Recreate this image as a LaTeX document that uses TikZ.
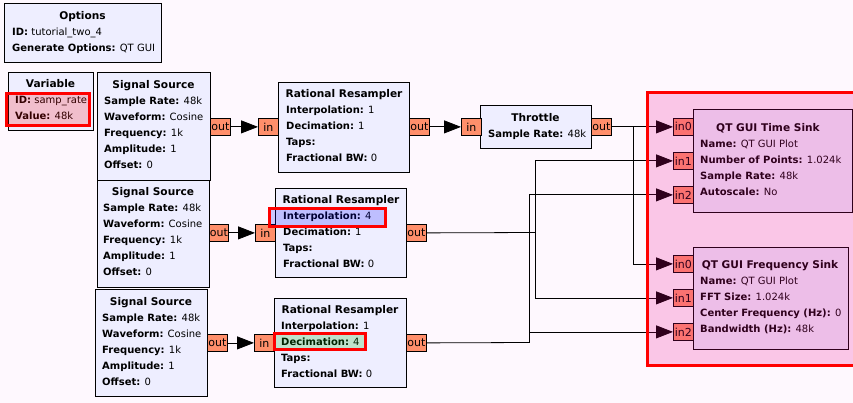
\documentclass[tikz,border=0pt]{standalone}
\usepackage{fontspec}
\setmainfont{DejaVu Sans}
\usetikzlibrary{arrows.meta}
\definecolor{bgc}{HTML}{FEF8FE}
\definecolor{blkfill}{HTML}{EEEEFF}
\definecolor{portfill}{HTML}{FF8F6B}
\tikzset{
  blk/.style={draw, fill=blkfill, line width=1pt, inner sep=0pt, anchor=north west},
  prt/.style={draw, fill=portfill, line width=0.8pt, inner sep=0pt, anchor=north west,
    minimum width=20pt, minimum height=17pt, font=\fontsize{11}{12}\selectfont},
  lbl/.style={anchor=base west, inner sep=0pt, font=\fontsize{10}{12}\selectfont},
  ttl/.style={anchor=base, inner sep=0pt, font=\fontsize{10.6}{12}\selectfont\bfseries},
  wire/.style={line width=0.8pt},
  arr/.style={wire, -{Triangle[length=17pt,width=13pt]}},
  hlbox/.style={line width=3pt, fill opacity=0.2},
}
\newcommand\mykv[5]{\node[lbl] (#1) at (#2,#3+3.6) {\textbf{#4} #5};}
\newcommand\myttl[4]{\node[ttl] (#1) at (#2,#3+3.8) {#4};}
\newcommand\myblk[5]{\node[blk, minimum width=#4pt, minimum height=#5pt] (#1) at (#2,#3) {};}
\begin{document}
\begin{tikzpicture}[x=1pt,y=-1pt]
\fill[bgc] (0,0) rectangle (853,403);
\useasboundingbox (0,0) rectangle (853,403);

% Options
\myblk{opt}{4}{3}{157}{59}
\myttl{optt}{82.5}{16}{Options}
\mykv{opt1}{12}{32}{ID:}{tutorial\_two\_4}
\mykv{opt2}{12}{48}{Generate Options:}{QT GUI}

% Variable
\myblk{var}{8}{72}{85}{58}
\myttl{vart}{50.5}{84}{Variable}
\mykv{var1}{15}{100}{ID:}{samp\_rate}
\mykv{var2}{15}{116}{Value:}{48k}

% Signal sources
\myblk{ss1}{97}{72}{113}{108}
\myttl{ss1t}{153.5}{85}{Signal Source}
\mykv{ss1a}{104}{101}{Sample Rate:}{48k}
\mykv{ss1b}{104}{117}{Waveform:}{Cosine}
\mykv{ss1c}{104}{133}{Frequency:}{1k}
\mykv{ss1d}{104}{149}{Amplitude:}{1}
\mykv{ss1e}{104}{165}{Offset:}{0}

\myblk{ss2}{97}{180}{112}{107}
\myttl{ss2t}{153}{192}{Signal Source}
\mykv{ss2a}{103}{208}{Sample Rate:}{48k}
\mykv{ss2b}{103}{224}{Waveform:}{Cosine}
\mykv{ss2c}{103}{240}{Frequency:}{1k}
\mykv{ss2d}{103}{256}{Amplitude:}{1}
\mykv{ss2e}{103}{272}{Offset:}{0}

\myblk{ss3}{95}{289}{112}{107}
\myttl{ss3t}{151}{302}{Signal Source}
\mykv{ss3a}{102}{318}{Sample Rate:}{48k}
\mykv{ss3b}{102}{334}{Waveform:}{Cosine}
\mykv{ss3c}{102}{350}{Frequency:}{1k}
\mykv{ss3d}{102}{366}{Amplitude:}{1}
\mykv{ss3e}{102}{382}{Offset:}{0}

% Rational resamplers
\myblk{r1}{278}{82}{131}{90}
\myttl{r1t}{344}{94}{Rational Resampler}
\mykv{r1a}{286}{110}{Interpolation:}{1}
\mykv{r1b}{286}{126}{Decimation:}{1}
\mykv{r1c}{286}{142}{Taps:}{}
\mykv{r1d}{286}{158}{Fractional BW:}{0}

\myblk{r2}{275}{188}{131}{89}
\myttl{r2t}{341}{200}{Rational Resampler}
\mykv{r2a}{283}{216}{Interpolation:}{4}
\mykv{r2b}{283}{232}{Decimation:}{1}
\mykv{r2c}{283}{248}{Taps:}{}
\mykv{r2d}{283}{264}{Fractional BW:}{0}

\myblk{r3}{274}{298}{132}{89}
\myttl{r3t}{340}{310}{Rational Resampler}
\mykv{r3a}{281}{326}{Interpolation:}{1}
\mykv{r3b}{281}{342}{Decimation:}{4}
\mykv{r3c}{281}{358}{Taps:}{}
\mykv{r3d}{281}{374}{Fractional BW:}{0}

% Throttle
\myblk{th}{480}{105}{111}{43}
\myttl{tht}{535.5}{118}{Throttle}
\mykv{tha}{488}{134}{Sample Rate:}{48k}

% Sinks
\myblk{ts}{693}{109}{159}{103}
\myttl{tst}{768}{128}{QT GUI Time Sink}
\mykv{tsa}{700}{144}{Name:}{QT GUI Plot}
\mykv{tsb}{700}{160}{Number of Points:}{1.024k}
\mykv{tsc}{700}{176}{Sample Rate:}{48k}
\mykv{tsd}{700}{192}{Autoscale:}{No}

\myblk{fs}{693}{247}{155}{102}
\myttl{fst}{770}{265}{QT GUI Frequency Sink}
\mykv{fsa}{700}{281}{Name:}{QT GUI Plot}
\mykv{fsb}{700}{297}{FFT Size:}{1.024k}
\mykv{fsc}{700}{313}{Center Frequency (Hz):}{0}
\mykv{fsd}{700}{329}{Bandwidth (Hz):}{48k}

% Ports
\node[prt] (ss1o) at (210,118) {out};
\node[prt] (r1i) at (258,118) {in};
\node[prt] (r1o) at (409,118) {out};
\node[prt] (thi) at (461,118) {in};
\node[prt] (tho) at (591,118) {out};
\node[prt, minimum width=19pt] (ss2o) at (209,224) {out};
\node[prt] (r2i) at (255,224) {in};
\node[prt] (r2o) at (406,224) {out};
\node[prt] (ss3o) at (207,334) {out};
\node[prt] (r3i) at (254,334) {in};
\node[prt] (r3o) at (406,334) {out};
\node[prt] (ti0) at (673,118) {in0};
\node[prt] (ti1) at (673,152) {in1};
\node[prt] (ti2) at (673,186) {in2};
\node[prt] (fi0) at (673,255) {in0};
\node[prt] (fi1) at (673,289) {in1};
\node[prt] (fi2) at (673,323) {in2};

% Connections
\draw[arr] (ss1o.east) -- (r1i.west);
\draw[arr] (r1o.east) -- (thi.west);
\draw[arr] (ss2o.east) -- (r2i.west);
\draw[arr] (ss3o.east) -- (r3i.west);
\draw[arr] (tho.east) -- (ti0.west);
\coordinate (j1) at (633,126.5);
\draw[arr] (j1) |- (fi0.west);
\coordinate (j2) at (535,232.5);
\draw[wire] (r2o.east) -- (j2);
\draw[arr] (j2) |- (ti1.west);
\draw[arr] (j2) |- (fi1.west);
\coordinate (j3) at (529,342.5);
\draw[wire] (r3o.east) -- (j3);
\draw[arr] (j3) |- (ti2.west);
\draw[arr] (j3) |- (fi2.west);

% Highlight overlays
\draw[hlbox, draw=red, fill=magenta] (647,93) rectangle (858,365.5);
\draw[hlbox, draw=red, fill=red] (6.5,93.5) rectangle (89.5,125.5);
\draw[hlbox, draw=red, fill=blue] (269.5,208.5) rectangle (385.5,226.5);
\draw[hlbox, draw=red, fill=green!70!black] (274.5,333.5) rectangle (365.5,349.5);
\end{tikzpicture}
\end{document}
